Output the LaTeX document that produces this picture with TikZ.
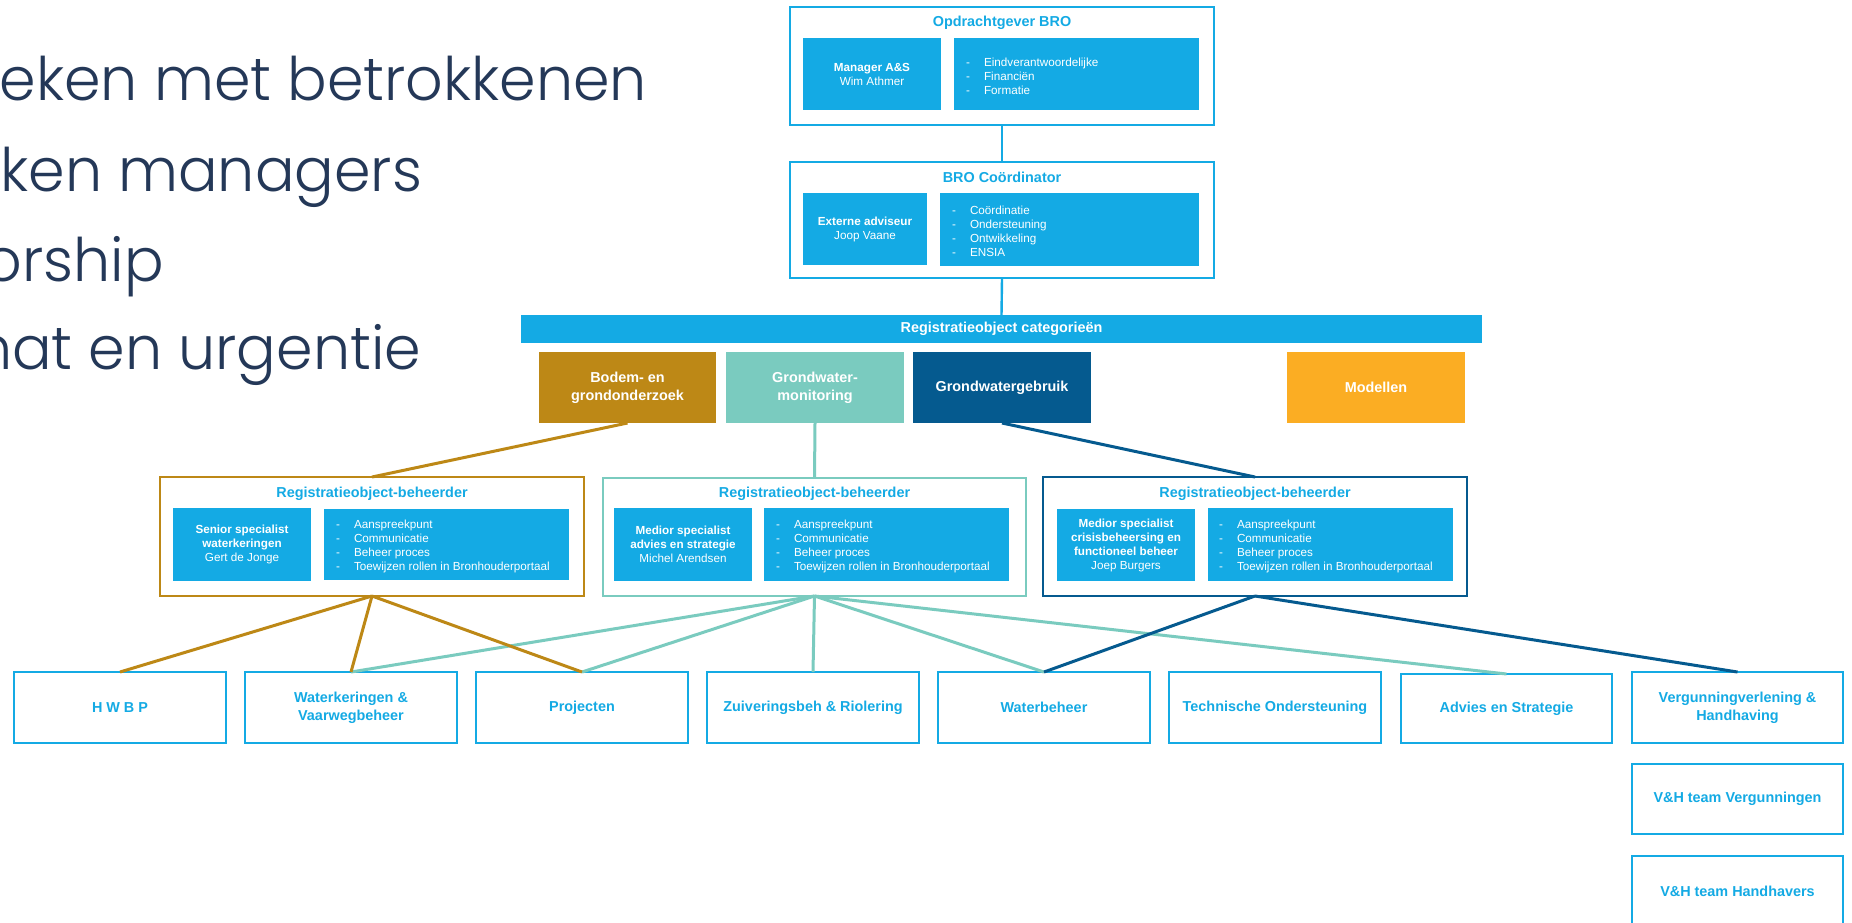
\documentclass[tikz,border=0pt]{standalone}
\usepackage{fontspec}
\setmainfont{Liberation Sans}
\newfontfamily\bigfont{Poppins Light}[FakeStretch=0.978]
\definecolor{bblue}{RGB}{20,170,228}
\definecolor{gold}{RGB}{189,136,22}
\definecolor{tealc}{RGB}{122,203,191}
\definecolor{dblue}{RGB}{5,90,143}
\definecolor{orng}{RGB}{251,173,35}
\definecolor{navy}{RGB}{36,56,88}
\newcommand\titlefont{\fontsize{7.2}{9}\selectfont\bfseries}
\newcommand\smallfont{\fontsize{5.85}{7}\selectfont}
\newcommand\namefont{\fontsize{5.85}{7}\selectfont}
\newcommand\li[1]{\makebox[9pt][l]{-}#1}
\newcommand\rbox[7]{%
  \pgfmathsetmacro\rcx{(#2+#4)/2}%
  \pgfmathsetmacro\rcy{(#3+#5)/2}%
  \pgfmathsetmacro\rw{(#4-#2)*0.5}%
  \pgfmathsetmacro\rh{(#5-#3)*0.5}%
  \node[#6,minimum width=\rw pt,minimum height=\rh pt] (#1) at (\rcx,\rcy) {#7};}
\begin{document}
\begin{tikzpicture}[x=0.5pt,y=-0.5pt,
  every node/.style={inner sep=0pt,outer sep=0pt},
  frame/.style={draw=bblue,line width=1pt,fill=white},
  fillb/.style={fill=bblue,text=white,align=center,font=\namefont},
  listb/.style={fill=bblue},
  listtext/.style={anchor=west,text=white,align=left,font=\smallfont},
  ttl/.style={anchor=base,text=bblue,font=\titlefont},
  cat/.style={text=white,align=center,font=\titlefont},
  beh/.style={line width=1.2pt,fill=white},
  bot/.style={draw=bblue,line width=1.2pt,fill=white,text=bblue,align=center,font=\titlefont},
  conn/.style={line width=1.5pt},
  bigtext/.style={anchor=base east,text=navy,font=\bigfont\fontsize{30}{36}\selectfont}]
\useasboundingbox (0,0) rectangle (1852,922);
\clip (0,0) rectangle (1852,922);
\fill[white] (0,0) rectangle (1852,922);

% left big text
\node[bigtext] (bt1) at (647,100) {eken met betrokkenen};
\node[bigtext] (bt2) at (422,191) {ken managers};
\node[bigtext] (bt3) at (164,281) {orship};
\node[bigtext] (bt4) at (421,369) {nat en urgentie};

% top box
\rbox{opd}{790}{7}{1214}{125}{frame}{}
\node[ttl] (opdt) at (1002,26) {Opdrachtgever BRO};
\rbox{man}{803}{38}{941}{110}{fillb}{\textbf{Manager A\&S}\\Wim Athmer}
\rbox{opdl}{954}{38}{1199}{110}{listb}{}
\node[listtext] (opdlt) at ([xshift=6pt,yshift=-1pt]opdl.west) {\li{Eindverantwoordelijke}\\\li{Financiën}\\\li{Formatie}};

% coordinator
\rbox{coo}{790}{162}{1214}{278}{frame}{}
\node[ttl] (coot) at (1002,182) {BRO Coördinator};
\rbox{ext}{803}{193}{927}{265}{fillb}{\textbf{Externe adviseur}\\Joop Vaane}
\rbox{cool}{940}{193}{1199}{266}{listb}{}
\node[listtext] (coolt) at ([xshift=6pt,yshift=-1pt]cool.west) {\li{Coördinatie}\\\li{Ondersteuning}\\\li{Ontwikkeling}\\\li{ENSIA}};

% category bar
\rbox{bar}{521}{315}{1482}{343}{fill=bblue,text=white,font=\titlefont}{Registratieobject categorieën}
\rbox{bod}{539}{352}{716}{423}{fill=gold,cat}{Bodem- en\\grondonderzoek}
\rbox{gwm}{726}{352}{904}{423}{fill=tealc,cat}{Grondwater-\\monitoring}
\rbox{gwg}{913}{352}{1091}{423}{fill=dblue,cat}{Grondwatergebruik}
\rbox{mod}{1287}{352}{1465}{423}{fill=orng,cat}{Modellen}

% beheerders
\rbox{b1}{160}{477}{584}{596}{beh,draw=gold}{}
\node[ttl] (b1t) at (372,497) {Registratieobject-beheerder};
\rbox{b1n}{173}{508}{311}{581}{fillb}{\textbf{Senior specialist}\\\textbf{waterkeringen}\\Gert de Jonge}
\rbox{b1l}{324}{509}{569}{580}{listb}{}
\node[listtext] (b1lt) at ([xshift=6pt,yshift=-1pt]b1l.west) {\li{Aanspreekpunt}\\\li{Communicatie}\\\li{Beheer proces}\\\li{Toewijzen rollen in Bronhouderportaal}};

\rbox{b2}{603}{478}{1026}{596}{beh,draw=tealc}{}
\node[ttl] (b2t) at (814.5,497) {Registratieobject-beheerder};
\rbox{b2n}{614}{508}{752}{581}{fillb}{\textbf{Medior specialist}\\\textbf{advies en strategie}\\Michel Arendsen}
\rbox{b2l}{764}{508}{1009}{581}{listb}{}
\node[listtext] (b2lt) at ([xshift=6pt,yshift=-1pt]b2l.west) {\li{Aanspreekpunt}\\\li{Communicatie}\\\li{Beheer proces}\\\li{Toewijzen rollen in Bronhouderportaal}};

\rbox{b3}{1043}{477}{1467}{596}{beh,draw=dblue}{}
\node[ttl] (b3t) at (1255,497) {Registratieobject-beheerder};
\rbox{b3n}{1057}{509}{1195}{581}{fillb}{\textbf{Medior specialist}\\\textbf{crisisbeheersing en}\\\textbf{functioneel beheer}\\Joep Burgers}
\rbox{b3l}{1208}{508}{1453}{581}{listb}{}
\node[listtext] (b3lt) at ([xshift=5.5pt,yshift=-1pt]b3l.west) {\li{Aanspreekpunt}\\\li{Communicatie}\\\li{Beheer proces}\\\li{Toewijzen rollen in Bronhouderportaal}};

% bottom row
\rbox{hwbp}{14}{672}{226}{743}{bot}{H W B P}
\rbox{wvb}{245}{672}{457}{743}{bot}{Waterkeringen \&\\Vaarwegbeheer}
\rbox{proj}{476}{672}{688}{743}{bot}{Projecten}
\rbox{zuiv}{707}{672}{919}{743}{bot}{Zuiveringsbeh \& Riolering}
\rbox{wb}{938}{672}{1150}{743}{bot}{Waterbeheer}
\rbox{tech}{1169}{672}{1381}{743}{bot}{Technische Ondersteuning}
\rbox{adv}{1401}{674}{1612}{743}{bot}{Advies en Strategie}
\rbox{vh}{1632}{672}{1843}{743}{bot}{Vergunningverlening \&\\Handhaving}
\rbox{vhv}{1632}{764}{1843}{834}{bot}{V\&H team Vergunningen}
\rbox{vhh}{1632}{856}{1843}{926}{bot}{V\&H team Handhavers}

% connectors
\draw[conn,bblue,line width=1.2pt] (opd.south) -- (coo.north);
\draw[conn,bblue,line width=1.2pt] (coo.south) -- (bar.north);
\draw[conn,tealc] (gwm.south) -- (b2.north);
\draw[conn,tealc] (b2.south) -- (wvb.north);
\draw[conn,tealc] (b2.south) -- (proj.north);
\draw[conn,tealc] (b2.south) -- (zuiv.north);
\draw[conn,tealc] (b2.south) -- (wb.north);
\draw[conn,tealc] (b2.south) -- (adv.north);
\draw[conn,gold] (bod.south) -- (b1.north);
\draw[conn,gold] (b1.south) -- (hwbp.north);
\draw[conn,gold] (b1.south) -- (wvb.north);
\draw[conn,gold] (b1.south) -- (proj.north);
\draw[conn,dblue] (gwg.south) -- (b3.north);
\draw[conn,dblue] (b3.south) -- (wb.north);
\draw[conn,dblue] (b3.south) -- (vh.north);
\end{tikzpicture}
\end{document}
